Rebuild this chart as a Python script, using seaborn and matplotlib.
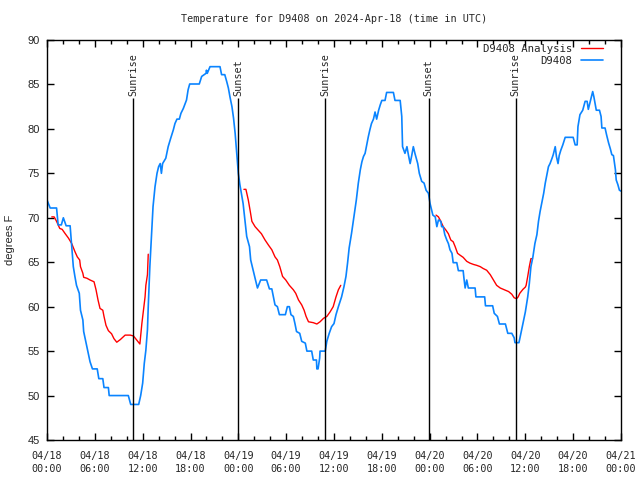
import numpy as np
import pandas as pd
import matplotlib
matplotlib.use("Agg")
import matplotlib.pyplot as plt
from matplotlib.ticker import MultipleLocator
from matplotlib.lines import Line2D
import seaborn as sns

# ---- data (hours since 2024-04-18 00:00 UTC) ----
blue_h = [0.0, 0.4, 1.2, 1.4, 1.8, 2.05, 2.4, 2.9, 3.1, 3.3, 3.5, 3.7, 4.05, 4.2, 4.5, 4.6, 5.0, 5.4, 5.7,
          6.3, 6.5, 7.0, 7.15, 7.7, 7.8, 10.2, 10.5, 11.5, 11.75, 12.0, 12.2, 12.4, 12.6, 12.7, 12.9, 13.1,
          13.3, 13.55, 13.8, 14.0, 14.2, 14.35, 14.5, 14.9, 15.2, 15.5, 15.85, 16.05, 16.3, 16.6, 16.8, 17.1,
          17.5, 17.7, 17.9, 19.1, 19.4, 19.95, 20.0, 20.1, 20.45, 21.7, 21.9, 22.3, 22.55, 22.75, 22.95, 23.2,
          23.4, 23.6, 23.8, 24.0, 24.2, 24.6, 24.85, 25.05, 25.4, 25.55, 25.8, 26.1, 26.4, 26.8, 27.55, 27.9,
          28.2, 28.4, 28.6, 28.9, 29.15, 29.9, 30.15, 30.4, 30.6, 30.9, 31.1, 31.3, 31.7, 31.95, 32.4, 32.6,
          33.2, 33.4, 33.8, 33.85, 34.0, 34.2, 34.25, 34.9, 35.1, 35.4, 35.7, 36.0, 36.25, 36.55, 36.95, 37.25,
          37.5, 37.7, 37.9, 38.2, 38.5, 38.8, 39.05, 39.3, 39.5, 39.7, 39.9, 40.1, 40.3, 40.5, 40.7, 40.95,
          41.15, 41.35, 41.6, 41.8, 42.0, 42.4, 42.6, 43.45, 43.65, 44.3, 44.5, 44.6, 44.9, 45.15, 45.35, 45.55,
          45.75, 45.95, 46.15, 46.5, 46.7, 47.0, 47.3, 47.55, 47.85, 48.05, 48.4, 48.7, 48.9, 49.1, 49.4, 49.5,
          49.7, 49.9, 50.15, 50.35, 50.55, 50.8, 50.95, 51.4, 51.6, 52.2, 52.3, 52.45, 52.65, 52.85, 53.7, 53.8,
          54.9, 55.0, 55.9, 56.1, 56.5, 56.75, 57.5, 57.8, 58.3, 58.6, 58.7, 59.2, 59.45, 59.7, 60.0, 60.3,
          60.5, 60.7, 60.95, 61.2, 61.45, 61.65, 61.85, 62.05, 62.3, 62.5, 62.7, 62.9, 63.1, 63.35, 63.5, 63.75,
          63.9, 64.1, 64.25, 64.45, 64.7, 65.0, 66.0, 66.25, 66.5, 66.6, 66.85, 67.2, 67.5, 67.75, 67.9, 68.15,
          68.45, 68.6, 68.9, 69.3, 69.5, 69.6, 70.0, 70.2, 70.45, 70.65, 70.85, 71.05, 71.3, 71.4, 71.6, 71.8,
          72.0]
blue_t = [72.0, 71.1, 71.1, 69.2, 69.2, 70.0, 69.1, 69.1, 66.8, 64.5, 63.4, 62.4, 61.5, 59.6, 58.5, 57.2, 55.5, 53.8, 53.0,
          53.0, 51.9, 51.9, 50.9, 50.9, 50.0, 50.0, 49.0, 49.0, 50.0, 51.4, 53.6, 55.1, 57.4, 60.0, 64.5, 67.9,
          71.25, 73.5, 75.0, 75.75, 76.1, 75.0, 76.1, 76.7, 78.0, 78.9, 79.9, 80.6, 81.1, 81.1, 81.75, 82.3,
          83.25, 84.4, 85.05, 85.05, 85.9, 86.25, 86.6, 86.25, 87.0, 87.0, 86.1, 86.1, 85.3, 84.6, 83.6, 82.5,
          81.2, 79.5, 77.25, 75.0, 73.7, 71.6, 69.6, 67.9, 66.75, 65.25, 64.3, 63.2, 62.1, 63.0, 63.0, 62.0,
          62.0, 61.1, 60.2, 60.0, 59.1, 59.1, 60.0, 60.0, 59.1, 58.9, 58.1, 57.2, 57.0, 56.1, 55.9, 55.0,
          55.0, 54.0, 54.0, 53.0, 53.0, 54.2, 55.0, 55.0, 56.1, 57.0, 57.75, 58.1, 59.1, 60.0, 61.1, 62.25,
          63.4, 64.9, 66.6, 68.25, 70.1, 72.0, 73.9, 75.4, 76.3, 76.9, 77.25, 78.2, 79.1, 79.9, 80.6, 81.1,
          81.9, 81.1, 82.1, 82.7, 83.2, 83.2, 84.1, 84.1, 83.2, 83.2, 81.4, 78.0, 77.25, 78.0, 77.0, 76.1,
          77.0, 78.0, 77.25, 76.1, 75.0, 74.1, 73.9, 73.1, 72.75, 71.6, 70.3, 70.1, 69.0, 69.75, 69.6, 69.0,
          69.0, 68.1, 67.5, 67.1, 66.4, 66.0, 64.95, 64.95, 64.05, 64.05, 63.2, 62.1, 63.0, 62.1, 62.1, 61.1,
          61.1, 60.1, 60.1, 59.25, 58.9, 58.05, 58.05, 57.0, 57.0, 56.5, 55.95, 55.95, 57.0, 58.1, 59.4, 61.1,
          62.6, 64.5, 65.6, 67.1, 68.1, 69.6, 70.7, 71.6, 72.75, 73.9, 74.8, 75.75, 76.1, 76.7, 77.1, 78.0,
          76.9, 76.1, 77.0, 77.6, 78.2, 79.05, 79.05, 78.2, 78.2, 80.25, 81.6, 82.1, 83.1, 83.1, 82.2, 83.1,
          84.2, 83.6, 82.1, 82.1, 81.4, 80.1, 80.1, 79.3, 78.4, 77.8, 77.1, 77.0, 75.4, 74.25, 73.75, 73.1,
          73.0]

red1_h = [0.6, 0.9, 1.2, 1.6, 1.9, 2.25, 2.7, 3.1, 3.5, 3.8, 4.1, 4.2, 4.5, 4.6, 5.0, 5.4, 5.9, 6.15, 6.4, 6.65,
          7.0, 7.15, 7.4, 7.7, 8.1, 8.4, 8.75, 9.2, 9.8, 10.45, 10.85, 11.25, 11.65, 11.9, 12.1, 12.3, 12.4,
          12.6, 12.7]
red1_t = [70.1, 70.1, 69.6, 68.8, 68.7, 68.25, 67.7, 67.1, 66.2, 65.6, 65.25, 64.5, 63.75, 63.3, 63.2, 63.0, 62.8,
          61.9, 60.75, 59.8, 59.6, 58.9, 57.9, 57.3, 56.95, 56.4, 56.0, 56.3, 56.8, 56.8, 56.7, 56.25, 55.8,
          58.1, 59.6, 61.1, 62.4, 63.6, 65.9]
red2_h = [24.7, 24.95, 25.25, 25.5, 25.7, 26.1, 26.5, 26.9, 27.35, 27.8, 28.2, 28.6, 28.9, 29.2, 29.55, 29.95,
          30.4, 30.9, 31.2, 31.55, 31.95, 32.25, 32.5, 32.8, 33.4, 33.85, 34.25, 34.7, 35.1, 35.5, 35.9, 36.25,
          36.55, 36.85]
red2_t = [73.2, 73.2, 72.0, 70.7, 69.6, 69.0, 68.6, 68.2, 67.5, 66.9, 66.4, 65.6, 65.25, 64.5, 63.4, 63.0, 62.4,
          61.9, 61.5, 60.75, 60.2, 59.6, 58.9, 58.3, 58.2, 58.05, 58.3, 58.7, 58.9, 59.4, 60.0, 61.1, 61.9, 62.4]
red3_h = [48.8, 49.1, 49.4, 49.7, 50.05, 50.35, 50.65, 50.95, 51.2, 51.5, 51.8, 52.2, 52.65, 53.05, 53.5, 53.9,
          54.35, 54.7, 55.15, 55.6, 56.0, 56.4, 56.85, 57.5, 57.9, 58.3, 58.6, 58.9, 59.1, 59.3, 59.7, 60.0,
          60.1, 60.3, 60.5, 60.7, 60.9]
red3_t = [70.3, 70.1, 69.6, 69.0, 68.6, 68.2, 67.5, 67.3, 66.75, 66.0, 65.8, 65.55, 65.1, 64.9, 64.75, 64.65,
          64.5, 64.3, 64.1, 63.6, 63.0, 62.4, 62.1, 61.85, 61.7, 61.4, 61.0, 60.9, 61.1, 61.5, 61.95, 62.2,
          62.4, 63.4, 64.5, 65.4, 65.4]

event_hours = [10.8, 24.0, 34.9, 47.9, 58.8]
event_labels = ["Sunrise", "Sunset", "Sunrise", "Sunset", "Sunrise"]

xtick_hours = [0, 6, 12, 18, 24, 30, 36, 42, 48, 54, 60, 66, 72]
xtick_labels = ["04/18\n00:00", "04/18\n06:00", "04/18\n12:00", "04/18\n18:00",
                "04/19\n00:00", "04/19\n06:00", "04/19\n12:00", "04/19\n18:00",
                "04/20\n00:00", "04/20\n06:00", "04/20\n12:00", "04/20\n18:00",
                "04/21\n00:00"]
yticks = [45, 50, 55, 60, 65, 70, 75, 80, 85, 90]

title = "Temperature for D9408 on 2024-Apr-18 (time in UTC)"
red_label = "D9408 Analysis"
blue_label = "D9408"

# ---- style ----
sns.set_style("ticks")
plt.rcParams["font.family"] = ["DejaVu Sans Mono"]
RED = "#ff0000"
BLUE = "#0a84ff"
MONO = 7.3

fig = plt.figure(figsize=(6.4, 4.8), dpi=100)
ax = fig.add_axes([47 / 640, 1 - 440 / 480, (621 - 47) / 640, 400 / 480])

red_df = pd.concat([
    pd.DataFrame({"h": red1_h, "t": red1_t, "seg": 1}),
    pd.DataFrame({"h": red2_h, "t": red2_t, "seg": 2}),
    pd.DataFrame({"h": red3_h, "t": red3_t, "seg": 3}),
])
blue_df = pd.DataFrame({"h": blue_h, "t": blue_t})

sns.lineplot(data=red_df, x="h", y="t", units="seg", estimator=None, color=RED,
             linewidth=1.0, ax=ax, sort=False)
sns.lineplot(data=blue_df, x="h", y="t", color=BLUE, linewidth=1.2, ax=ax, sort=False)

for xh, lab in zip(event_hours, event_labels):
    ax.vlines(xh, 45, 83.5, color="black", linewidth=1.0)
    ax.text(xh, 83.75, lab, rotation=90, ha="center", va="bottom",
            fontsize=MONO, family="DejaVu Sans Mono")

ax.set_xlim(0, 72)
ax.set_ylim(45, 90)
ax.set_xticks(xtick_hours)
ax.set_xticklabels(xtick_labels, fontsize=MONO, family="DejaVu Sans Mono", linespacing=1.35)
ax.xaxis.set_minor_locator(MultipleLocator(2))
ax.set_yticks(yticks)
ax.set_yticklabels([str(v) for v in yticks], fontsize=8, family="Liberation Sans")
ax.tick_params(which="both", direction="in", top=True, right=True, width=1, color="black")
ax.tick_params(which="major", length=5)
ax.tick_params(which="minor", length=3)
ax.tick_params(axis="x", which="major", pad=8)
ax.tick_params(axis="y", which="major", pad=5)
for s in ax.spines.values():
    s.set_visible(True)
    s.set_color("black")
    s.set_linewidth(1.0)

ax.set_xlabel("")
ax.set_ylabel("degrees F", fontsize=8, family="Liberation Sans", labelpad=9)

fig.text(334 / 640, 1 - 19 / 480, title, ha="center", va="center",
         fontsize=MONO, family="DejaVu Sans Mono")

handles = [Line2D([0], [0], color=RED, lw=1.0), Line2D([0], [0], color=BLUE, lw=1.2)]
leg = ax.legend(handles, [red_label, blue_label], loc="upper right",
                bbox_to_anchor=((603 - 47) / 574, (440 - 44) / 400), frameon=False,
                markerfirst=False, borderpad=0, borderaxespad=0, handlelength=2.1,
                handletextpad=0.8, labelspacing=0.2,
                prop={"family": "DejaVu Sans Mono", "size": MONO + 0.4})

fig.savefig("out.png", dpi=100)
